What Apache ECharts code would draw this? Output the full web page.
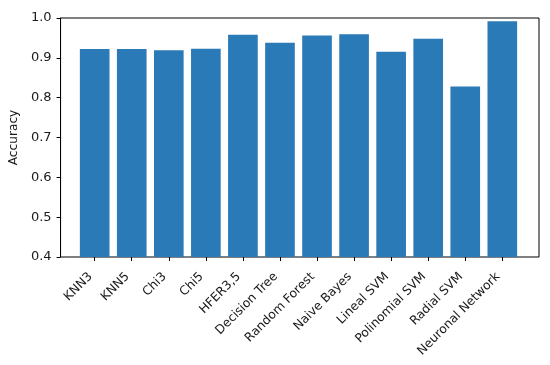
<!DOCTYPE html>
<html><head><meta charset="utf-8">
<script src="https://cdn.jsdelivr.net/npm/echarts@6/dist/echarts.min.js"></script>
<style>html,body{margin:0;padding:0;background:#fff}#c{width:550px;height:365px}</style>
</head><body><div id="c"></div>
<script>
const categories = ['KNN3','KNN5','Chi3','Chi5','HFER3,5','Decision Tree','Random Forest','Naive Bayes','Lineal SVM','Polinomial SVM','Radial SVM','Neuronal Network'];
const accuracy = [0.922,0.922,0.919,0.923,0.958,0.938,0.956,0.959,0.915,0.948,0.828,0.992];
const yTicks = [0.4,0.5,0.6,0.7,0.8,0.9,1.0];

const L = 58, R = 539, T = 18, B = 257;
const n = categories.length;
const unit = (R - L) / (n - 1 + 0.8 + 2 * 0.05 * (n - 1 + 0.8));
const margin = 0.05 * (n - 1 + 0.8);
const bandStart = L + (margin - 0.1) * unit;
const bandEnd = bandStart + n * unit;
const font = 'DejaVu Sans';
const chart = echarts.init(document.getElementById('c'));
chart.setOption({
  animation: false,
  grid: [
    {left: L, right: 550 - R, top: T, bottom: 365 - B, show: true, borderColor: '#000', borderWidth: 1, backgroundColor: 'transparent'},
    {left: bandStart, right: 550 - bandEnd, top: T, bottom: 365 - B}
  ],
  xAxis: [
    {gridIndex: 0, type: 'value', min: 0, max: 1, axisLine: {show: false}, axisTick: {show: false}, axisLabel: {show: false}, splitLine: {show: false}},
    {gridIndex: 1, type: 'category', data: categories, boundaryGap: true,
     axisLine: {show: false},
     axisTick: {show: true, alignWithLabel: true, length: 4, lineStyle: {color: '#000'}},
     axisLabel: {rotate: 45, interval: 0, margin: 22, align: 'right', verticalAlign: 'bottom', fontFamily: font, fontSize: 12.3, color: '#1a1a1a'}}
  ],
  yAxis: [
    {gridIndex: 0, type: 'value', min: 0.4, max: 1.0, interval: 0.1,
     name: 'Accuracy', nameLocation: 'middle', nameGap: 36, nameTextStyle: {fontFamily: font, fontSize: 12.2, color: '#1a1a1a'},
     axisLine: {show: true, lineStyle: {color: '#000'}},
     axisTick: {show: true, length: 4, lineStyle: {color: '#000'}},
     axisLabel: {margin: 9, fontFamily: font, fontSize: 13, color: '#1a1a1a', formatter: v => v.toFixed(1)},
     splitLine: {show: false}},
    {gridIndex: 1, type: 'value', min: 0.4, max: 1.0, show: false, splitLine: {show: false}}
  ],
  series: [{
    type: 'bar', xAxisIndex: 1, yAxisIndex: 1,
    data: accuracy, barWidth: '80%',
    itemStyle: {color: '#2a7ab7'}
  }]
});
</script></body></html>
